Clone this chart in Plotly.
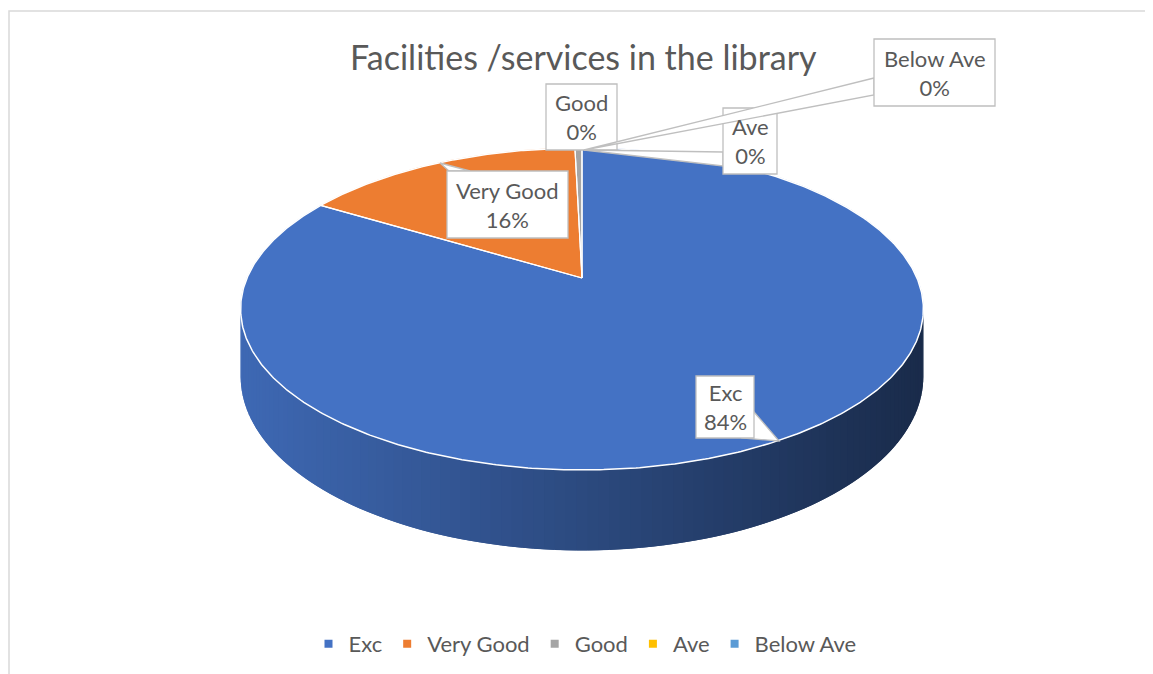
import numpy as np
import plotly.graph_objects as go

# ---------------- data ----------------
categories = ["Exc", "Very Good", "Good", "Ave", "Below Ave"]
values = [83.6, 16.0, 0.4, 0.0, 0.0]          # percent of responses
top_colors = ["#4472C4", "#ED7D31", "#A5A5A5", "#FFC000", "#5B9BD5"]
title_text = "Facilities /services in the library"

# ---------------- geometry (style) ----------------
W, H = 1153, 674
OFF = 8                 # page body margin compensation
CX, CY = 582, 278       # apex of pie on screen
R, B, C = 335, 155, 0.1925   # horizontal radius, vertical radius, perspective
D = 65                  # thickness
TXT = "#595959"
FONT = "Lato"


def proj(theta_deg, depth=0.0):
    t = np.radians(theta_deg)
    X, Z = np.sin(t), np.cos(t)
    s = 1.0 / (1.0 + C * Z)
    return CX + R * X * s, CY - B * Z * s + depth * s


def hex2rgb(h):
    h = h.lstrip("#")
    return tuple(int(h[i:i + 2], 16) for i in (0, 2, 4))


total = sum(values)
fracs = [v / total for v in values]
starts = np.concatenate([[0], np.cumsum(fracs)[:-1]]) * 360
ends = np.cumsum(fracs) * 360

fig = go.Figure()

# ---------- side (visible front wall) ----------
thR = np.degrees(np.arccos(-C))
thL = 360 - thR
xl, _ = proj(thL)
xr, _ = proj(thR)
for i, cat in enumerate(categories):
    a0, a1 = max(starts[i], thR), min(ends[i], thL)
    if a1 <= a0:
        continue
    th = np.linspace(a0, a1, max(2, int((a1 - a0) / 1.5) + 1))
    rgb = hex2rgb(top_colors[i])
    n = len(th)
    for k in range(n - 1):
        k2 = min(k + 2, n - 1)   # overlap next strip to hide seams
        x0, y0 = proj(th[k])
        xm, ym = proj(th[k + 1])
        x1, y1 = proj(th[k2])
        x0b, y0b = proj(th[k], D)
        xmb, ymb = proj(th[k + 1], D)
        x1b, y1b = proj(th[k2], D)
        tt = ((x0 + xm) / 2 - xl) / (xr - xl)
        f = 0.92 - 0.54 * tt
        col = "rgb(%d,%d,%d)" % tuple(int(c * f) for c in rgb)
        fig.add_trace(go.Scatter(
            x=[x0, xm, x1, x1b, xmb, x0b, x0], y=[y0, ym, y1, y1b, ymb, y0b, y0],
            mode="lines", fill="toself", fillcolor=col,
            line=dict(color=col, width=0), hoverinfo="skip", showlegend=False))

# ---------- top slices ----------
for i, cat in enumerate(categories):
    if values[i] <= 0:
        continue
    th = np.linspace(starts[i], ends[i], max(3, int(ends[i] - starts[i]) * 2 + 2))
    pts = [proj(t) for t in th]
    xs = [CX] + [p[0] for p in pts] + [CX]
    ys = [CY] + [p[1] for p in pts] + [CY]
    fig.add_trace(go.Scatter(
        x=xs, y=ys, mode="lines", fill="toself", fillcolor=top_colors[i],
        line=dict(color=top_colors[i], width=0.5), hoverinfo="skip", showlegend=False))

# white outlines
th = np.linspace(0, 360, 721)
pts = [proj(t) for t in th]
fig.add_trace(go.Scatter(x=[p[0] for p in pts], y=[p[1] for p in pts], mode="lines",
                         line=dict(color="white", width=1.5), hoverinfo="skip", showlegend=False))
for i in range(len(categories)):
    if values[i] <= 0:
        continue
    for a in (starts[i], ends[i]):
        ex, ey = proj(a)
        fig.add_trace(go.Scatter(x=[CX, ex], y=[CY, ey], mode="lines",
                                 line=dict(color="white", width=1.2),
                                 hoverinfo="skip", showlegend=False))

# ---------- legend entries ----------
for i, cat in enumerate(categories):
    fig.add_trace(go.Scatter(x=[-500], y=[-500], mode="markers", name=cat,
                             marker=dict(symbol="square", size=8, color=top_colors[i])))

# ---------- callout labels ----------
pct = [int(round(v)) for v in values]
boxes = {
    "Exc": ((696, 376, 754, 438), ((779, 441), (754, 412), (742, 438))),
    "Very Good": ((447, 171, 568, 238), ((440, 163), (449, 171), (470, 171))),
    "Good": ((546, 84, 617, 150), None),
    "Ave": ((723, 108, 777, 174), ((584, 150), (723, 152), (723, 166))),
    "Below Ave": ((874, 39, 995, 106), ((584, 150), (874, 78), (874, 95))),
}
shapes = []
annotations = []
for i, cat in enumerate(categories):
    (bx0, by0, bx1, by1), wedge = boxes[cat]
    if wedge:
        (tx, ty), (ax, ay), (bx, byy) = wedge
        shapes.append(dict(type="path", xref="x", yref="y", layer="above",
                           path=f"M {ax},{ay} L {tx},{ty} L {bx},{byy} Z",
                           fillcolor="white", line=dict(color="#BFBFBF", width=1.3)))
    shapes.append(dict(type="rect", xref="x", yref="y", layer="above",
                       x0=bx0, y0=by0, x1=bx1, y1=by1,
                       fillcolor="white", line=dict(color="#BFBFBF", width=1.3)))
    annotations.append(dict(x=(bx0 + bx1) / 2, y=(by0 + by1) / 2, xref="x", yref="y",
                            text=f"{cat}<br>{pct[i]}%", showarrow=False,
                            font=dict(family=FONT, size=22, color=TXT),
                            align="center", xanchor="center", yanchor="middle"))

annotations.append(dict(x=583, y=56, xref="x", yref="y", text=title_text, showarrow=False,
                        font=dict(family=FONT, size=34, color=TXT),
                        xanchor="center", yanchor="middle"))

# chart frame
shapes.insert(0, dict(type="rect", xref="x", yref="y", layer="below",
                      x0=9, y0=11, x1=1175, y1=700,
                      line=dict(color="#D9D9D9", width=1.5), fillcolor="rgba(0,0,0,0)"))

fig.update_layout(
    width=W, height=H, margin=dict(l=0, r=0, t=0, b=0),
    paper_bgcolor="white", plot_bgcolor="white",
    xaxis=dict(range=[OFF, W + OFF], visible=False, fixedrange=True),
    yaxis=dict(range=[H + OFF, OFF], visible=False, fixedrange=True),
    shapes=shapes, annotations=annotations,
    showlegend=True,
    legend=dict(orientation="h", x=(585 - OFF) / W, xanchor="center",
                y=1 - (644 - OFF) / H, yanchor="middle",
                font=dict(family=FONT, size=22, color=TXT), itemclick=False,
                bgcolor="rgba(0,0,0,0)"),
)

fig.write_html("out.html")
